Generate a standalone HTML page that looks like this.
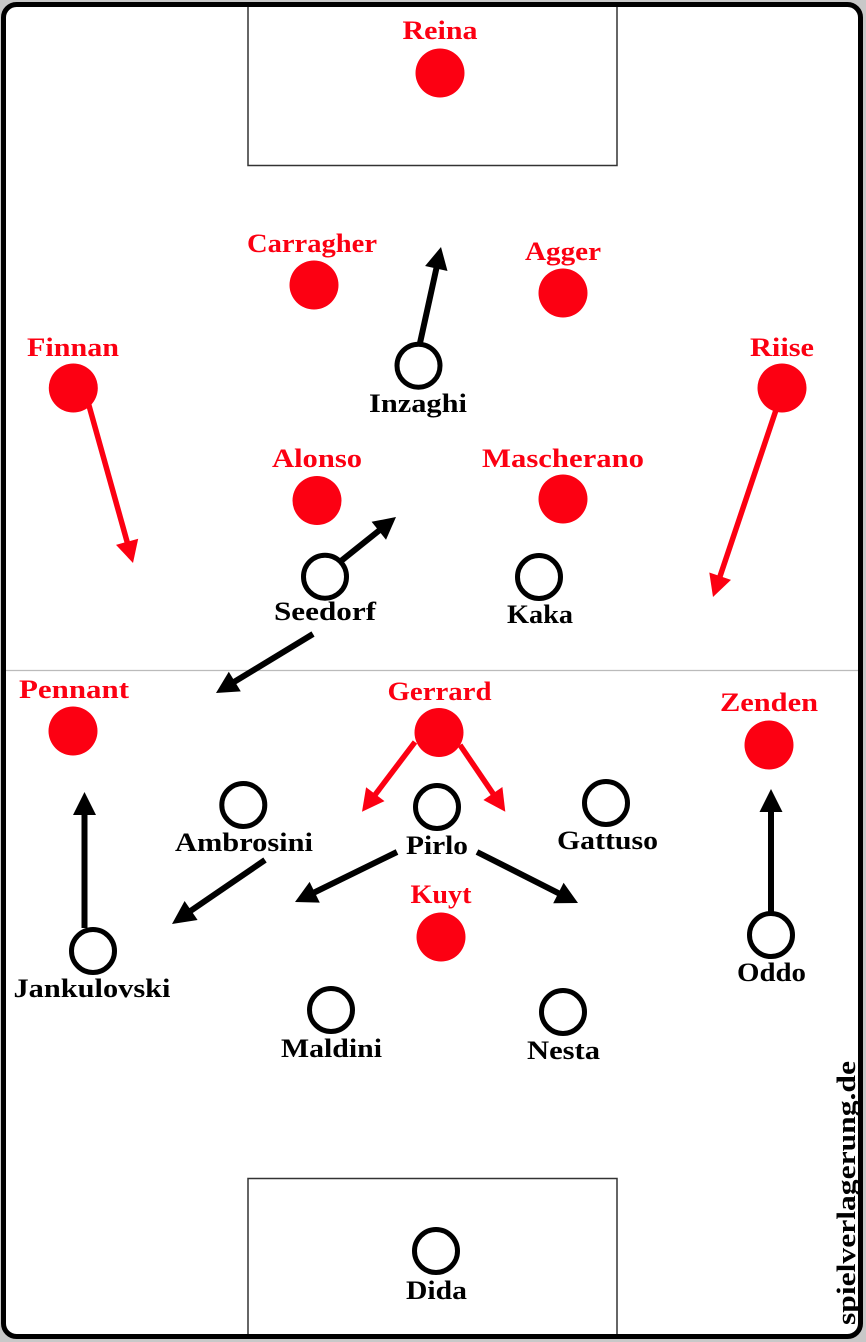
<!DOCTYPE html>
<html><head><meta charset="utf-8"><style>
html,body{margin:0;padding:0;background:#c8c8c8;}
svg{display:block;}
text{font-family:"Liberation Serif","DejaVu Serif",serif;font-weight:bold;font-size:26px;}
.r{fill:#fc0012;}
.b{fill:#000;}
</style></head><body>
<svg width="866" height="1342" viewBox="0 0 866 1342" xmlns="http://www.w3.org/2000/svg">
<rect x="0" y="0" width="866" height="1342" fill="#c8c8c8"/>
<rect x="3.5" y="4.5" width="857" height="1332" rx="13" ry="13" fill="#fff" stroke="#000" stroke-width="5"/>
<!-- pitch lines -->
<line x1="6" y1="670.5" x2="858" y2="670.5" stroke="#bbb" stroke-width="1.2"/>
<path d="M248,7 V165.5 H617 V7" fill="none" stroke="#333" stroke-width="1.5"/>
<path d="M248,1334 V1178.5 H617 V1334" fill="none" stroke="#333" stroke-width="1.5"/>

<!-- red arrows -->
<g stroke="#fc0012" stroke-width="5.5" fill="none">
<line x1="88" y1="402" x2="128.2" y2="545.7"/>
<line x1="776" y1="410" x2="718.8" y2="580"/>
<line x1="415" y1="742" x2="372.9" y2="797.7"/>
<line x1="460" y1="745" x2="495.2" y2="796.8"/>
</g>
<g fill="#fc0012">
<polygon points="133,563 116,544.9 138.2,538.7"/>
<polygon points="713,597 709.3,572.5 731,579.9"/>
<polygon points="362,811.7 366.1,787.2 384.5,801.1"/>
<polygon points="505.3,811.7 483.4,800 502.4,787"/>
</g>

<!-- black arrows -->
<g stroke="#000" stroke-width="6" fill="none">
<line x1="420" y1="343" x2="437.2" y2="264.6"/>
<line x1="341" y1="561" x2="381.9" y2="528.3"/>
<line x1="313" y1="634" x2="231.4" y2="683.6"/>
<line x1="265" y1="860" x2="187.8" y2="912.8"/>
<line x1="397" y1="852" x2="311.1" y2="894"/>
<line x1="477" y1="852" x2="561.9" y2="894.9"/>
<line x1="84.5" y1="928" x2="84.5" y2="810"/>
<line x1="771" y1="912" x2="771" y2="807"/>
</g>
<g fill="#000">
<polygon points="441,247 447.5,271 425.1,266"/>
<polygon points="396,517 386,539.7 371.6,521.8"/>
<polygon points="216,693 228.8,671.7 240.8,691.4"/>
<polygon points="172,924 184.6,901 197.6,920"/>
<polygon points="295,902 309.6,881.9 319.8,902.6"/>
<polygon points="578,903 553.2,903.3 563.6,882.8"/>
<polygon points="84.5,792 96,815 73,815"/>
<polygon points="771,789 782.5,812 759.5,812"/>
</g>

<!-- red players -->
<g fill="#fc0012">
<circle cx="440" cy="73" r="24.5"/>
<circle cx="314" cy="285" r="24.5"/>
<circle cx="563" cy="293" r="24.5"/>
<circle cx="73.3" cy="388" r="24.5"/>
<circle cx="782" cy="388" r="24.5"/>
<circle cx="317" cy="500.5" r="24.5"/>
<circle cx="563" cy="499" r="24.5"/>
<circle cx="73" cy="731" r="24.5"/>
<circle cx="439" cy="732.5" r="24.5"/>
<circle cx="769" cy="745" r="24.5"/>
<circle cx="441" cy="937" r="24.5"/>
</g>

<!-- black players -->
<g fill="#fff" stroke="#000" stroke-width="5">
<circle cx="418.5" cy="365.7" r="21.5"/>
<circle cx="325" cy="576.7" r="21.5"/>
<circle cx="539" cy="577" r="21.5"/>
<circle cx="243.3" cy="805" r="21.5"/>
<circle cx="437" cy="807" r="21.5"/>
<circle cx="606" cy="803" r="21.5"/>
<circle cx="93" cy="951" r="21.5"/>
<circle cx="771" cy="935" r="21.5"/>
<circle cx="331" cy="1010" r="21.5"/>
<circle cx="563" cy="1012" r="21.5"/>
<circle cx="436" cy="1251" r="21.5"/>
</g>

<!-- red labels -->
<g class="r" text-anchor="middle">
<text x="440" y="39" textLength="75" lengthAdjust="spacingAndGlyphs">Reina</text>
<text x="312" y="252" textLength="130" lengthAdjust="spacingAndGlyphs">Carragher</text>
<text x="563" y="260" textLength="76" lengthAdjust="spacingAndGlyphs">Agger</text>
<text x="73" y="356" textLength="92" lengthAdjust="spacingAndGlyphs">Finnan</text>
<text x="782" y="356" textLength="64" lengthAdjust="spacingAndGlyphs">Riise</text>
<text x="317" y="467" textLength="90" lengthAdjust="spacingAndGlyphs">Alonso</text>
<text x="563" y="467" textLength="162" lengthAdjust="spacingAndGlyphs">Mascherano</text>
<text x="74" y="698" textLength="110" lengthAdjust="spacingAndGlyphs">Pennant</text>
<text x="439.5" y="700" textLength="104" lengthAdjust="spacingAndGlyphs">Gerrard</text>
<text x="769" y="711" textLength="98" lengthAdjust="spacingAndGlyphs">Zenden</text>
<text x="441" y="903" textLength="61" lengthAdjust="spacingAndGlyphs">Kuyt</text>
</g>

<!-- black labels -->
<g class="b" text-anchor="middle">
<text x="418" y="412" textLength="98" lengthAdjust="spacingAndGlyphs">Inzaghi</text>
<text x="325" y="620" textLength="102" lengthAdjust="spacingAndGlyphs">Seedorf</text>
<text x="540" y="623" textLength="66" lengthAdjust="spacingAndGlyphs">Kaka</text>
<text x="244" y="851" textLength="138" lengthAdjust="spacingAndGlyphs">Ambrosini</text>
<text x="437" y="854" textLength="62" lengthAdjust="spacingAndGlyphs">Pirlo</text>
<text x="607.5" y="849" textLength="101" lengthAdjust="spacingAndGlyphs">Gattuso</text>
<text x="92" y="997" textLength="157" lengthAdjust="spacingAndGlyphs">Jankulovski</text>
<text x="771.5" y="981" textLength="69" lengthAdjust="spacingAndGlyphs">Oddo</text>
<text x="331.5" y="1057" textLength="101" lengthAdjust="spacingAndGlyphs">Maldini</text>
<text x="563.5" y="1059" textLength="73" lengthAdjust="spacingAndGlyphs">Nesta</text>
<text x="436.5" y="1299" textLength="61" lengthAdjust="spacingAndGlyphs">Dida</text>
</g>

<!-- watermark -->
<text class="b" transform="translate(855,1325) rotate(-90)" x="0" y="0" style="font-size:26px" textLength="264" lengthAdjust="spacingAndGlyphs">spielverlagerung.de</text>
</svg>
</body></html>
